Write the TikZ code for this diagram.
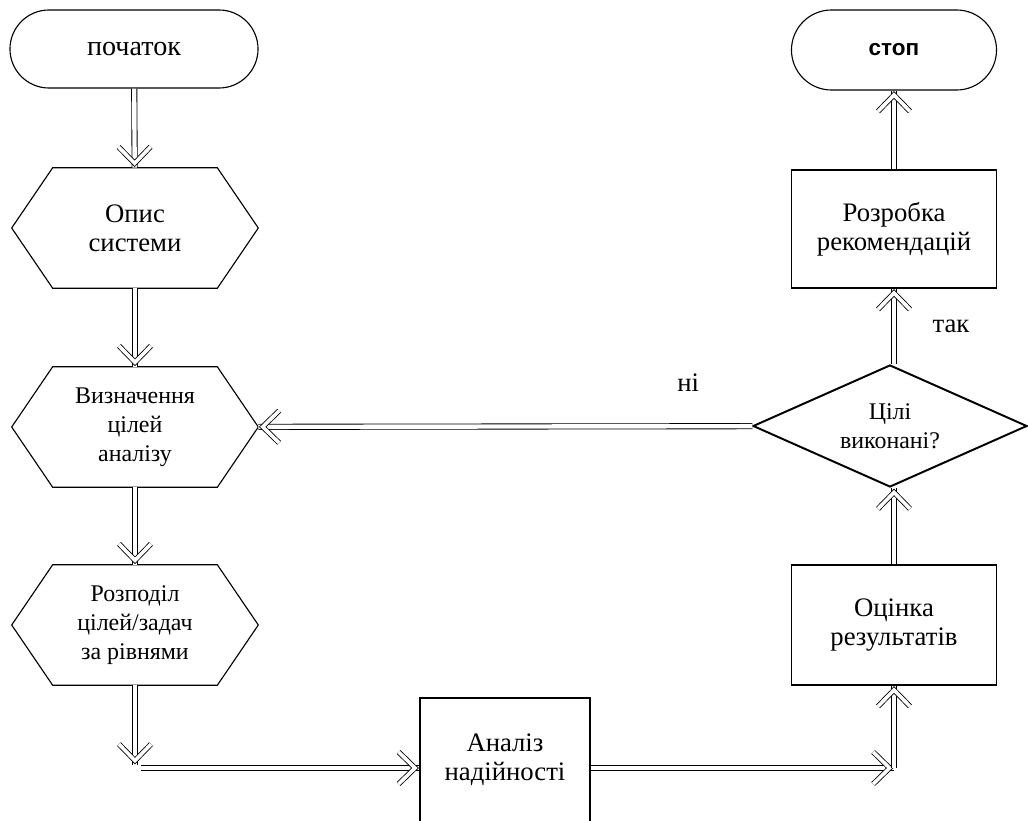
\documentclass[tikz,border=0pt]{standalone}
\usepackage{fontspec}
\setmainfont{Liberation Serif}
\newfontfamily\stopfont{Liberation Sans}
\usetikzlibrary{decorations.markings,shapes.geometric}
\tikzset{
  terminal/.style={
    draw,
    line width=0.8pt,
    rounded corners=0.975cm,
    minimum width=6.2cm,
    minimum height=1.95cm
  },
  hexbox/.style={
    minimum width=6.15cm,
    minimum height=3cm,
    align=center
  },
  procbox/.style={
    draw,
    line width=0.8pt,
    minimum width=5.125cm,
    minimum height=2.95cm,
    align=center,
    font=\fontsize{19}{20.5}\selectfont
  },
  decision/.style={
    draw,
    line width=1.4pt,
    shape = diamond,
    aspect=2.25,
    inner sep=0pt,
    minimum width=6.85cm,
    minimum height=3.05cm,
    align=center
  },
  dbl/.style={
    double,
    double distance=0.11cm,
    line width=0.6pt,
    postaction={decorate, decoration={markings,
      mark=at position 1 with {
        \draw[double, double distance=0.09cm, line width=0.6pt]
          (-0.52cm,0.4cm) -- (-0.11cm,0) -- (-0.52cm,-0.4cm);
      }}}
  },
  every picture/.style = {
    font=\fontsize{17}{20.5}\selectfont
  }
}
\begin{document}
\begin{tikzpicture}[x=0.025cm,y=-0.025cm]
  \useasboundingbox (0,0) rectangle (1028,821);
  % left column
  \node[terminal, font=\fontsize{20}{22}\selectfont] (start) at (134,49) {початок};
  \node[hexbox, font=\fontsize{19}{20.5}\selectfont] (opis) at (135,228) {Опис\\системи};
  \node[hexbox] (vyzn) at (135,427) {Визначення\\цілей\\аналізу};
  \node[hexbox] (rozp) at (135,625) {Розподіл\\цілей/задач\\за рівнями};
  \foreach \n in {opis,vyzn,rozp}
    \draw[line width=0.8pt] (\n.west) -- ([xshift=1.025cm]\n.north west) -- ([xshift=-1.025cm]\n.north east)
      -- (\n.east) -- ([xshift=-1.025cm]\n.south east) -- ([xshift=1.025cm]\n.south west) -- cycle;
  \node[procbox, minimum width=4.25cm, minimum height=3.1cm] (analiz) at (505,760) {Аналіз\\надійності};
  % right column
  \node[procbox, minimum height=3cm] (ocinka) at (894,625) {Оцінка\\результатів};
  \node[decision] (tsili) at (890,426) {Цілі\\виконані?};
  \node[procbox] (rozrobka) at (894,229) {Розробка\\рекомендацій};
  \node[terminal, minimum width=5.125cm, minimum height=2cm, rounded corners=1cm] (stop) at (894,50) {\stopfont\fontsize{16}{18}\selectfont\bfseries стоп};
  \coordinate (c1) at (135,765);
  \coordinate (c2) at (141,768);
  \coordinate (c3) at (894,768);
  \foreach \a/\b in {start/opis,opis/vyzn,vyzn/rozp}
    \draw[dbl] (\a) -- (\b);
  \draw[dbl] (rozp) -- (c1);
  \draw[dbl] (c2) -- (c2 -| analiz.west);
  \draw[dbl] (analiz.east |- c3) -- (c3);
  \draw[dbl] (c3) -- (ocinka);
  \draw[dbl] (ocinka) -- (ocinka |- tsili.south);
  \draw[dbl] (rozrobka |- tsili.north) -- node[xshift=1.425cm, font=\fontsize{19}{20}\selectfont] (tak) {так} (rozrobka);
  \draw[dbl] (rozrobka) -- (stop);
  \draw[dbl] (tsili) -- node[pos=0.13, yshift=1.1cm, font=\fontsize{19}{20}\selectfont] (ni) {ні} (vyzn);
\end{tikzpicture}
\end{document}
